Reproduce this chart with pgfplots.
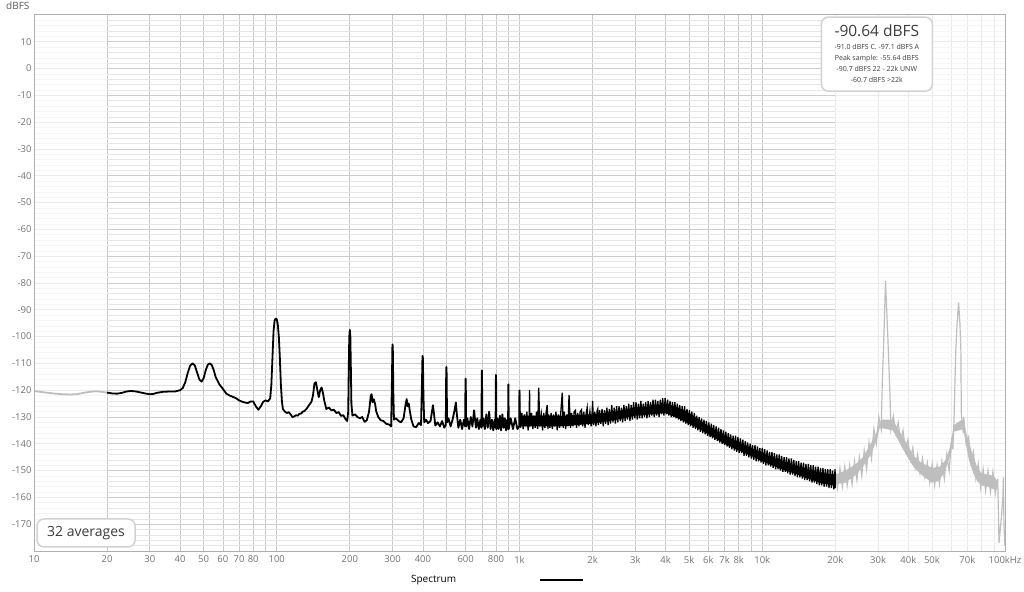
\documentclass[border=0pt]{standalone}
\usepackage{fontspec}
\setmainfont{Open Sans}
\usepackage{pgfplots}
\pgfplotsset{compat=1.18}
\definecolor{gridmaj}{RGB}{205,205,205}
\definecolor{gridmin}{RGB}{230,230,230}
\definecolor{vgrid}{RGB}{200,200,200}
\definecolor{framec}{RGB}{175,175,175}
\definecolor{ticklab}{RGB}{115,115,115}
\definecolor{specgray}{RGB}{190,190,190}
\definecolor{boxborder}{RGB}{210,210,210}
\begin{document}
\begin{tikzpicture}
\useasboundingbox (-34pt,-40pt) rectangle (990pt,551pt);
\begin{axis}[
  at={(0,0)}, anchor=south west,
  scale only axis, width=971pt, height=536pt,
  xmode=log, xmin=10, xmax=100000, ymin=-180, ymax=20,
  clip=false,
  xtick={10,20,30,40,50,60,70,80,100,200,300,400,600,800,1000,2000,3000,4000,5000,6000,7000,8000,10000,20000,30000,40000,50000,70000,100000},
  xticklabels={10,20,30,40,50,60,70,80,100,200,300,400,600,800,1k,2k,3k,4k,5k,6k,7k,8k,10k,20k,30k,40k,50k,70k,100kHz},
  minor xtick={90,500,700,900,9000,60000,80000,90000},
  ytick={-170,-160,-150,-140,-130,-120,-110,-100,-90,-80,-70,-60,-50,-40,-30,-20,-10,0,10},
  yticklabels={-170,-160,-150,-140,-130,-120,-110,-100,-90,-80,-70,-60,-50,-40,-30,-20,-10,0,10},
  minor ytick={-178,-176,...,18},
  grid=both,
  major x grid style={color=vgrid, line width=0.7pt},
  minor x grid style={color=vgrid, line width=0.7pt},
  major y grid style={color=gridmaj, line width=0.7pt},
  minor y grid style={color=gridmin, line width=0.6pt},
  major tick length=0pt, minor tick length=0pt,
  axis line style={color=framec, line width=1pt},
  ticklabel style={font=\fontsize{9.5}{11}\selectfont, text=ticklab},
  xticklabel style={yshift=-1.5pt},
  yticklabel style={xshift=1pt},
  legend plot pos=right,
  legend style={at={(rel axis cs:0.383,-0.054)}, anchor=west, draw=none, fill=none,
     font=\fontsize{10}{11}\selectfont},
  legend image code/.code={\path[draw=none] (0pt,0pt) -- (82pt,0pt); \draw[line width=1.8pt, black] (82pt,0pt) -- (125pt,0pt);},
]
% lighter regions outside 20 Hz - 20 kHz
\fill[white, opacity=0.6] (axis cs:10,-180) rectangle (axis cs:20,20);
\fill[white, opacity=0.6] (axis cs:20000,-180) rectangle (axis cs:100000,20);

% gray part 10-20 Hz
\addplot[specgray, line width=1.8pt, forget plot] coordinates {
(10,-120.3)(11,-120.8)(12,-121.2)(13,-121.5)(14,-121.6)(15,-121.5)(16,-121.0)(17,-120.6)(18,-120.4)(19,-120.6)(20,-120.9)};

% gray part 20k-100k : core fill
\addplot[fill=specgray, draw=none, forget plot] coordinates {
(20000,-151.5)(22000,-150)(24000,-148)(26000,-145)(28000,-140)(29500,-136)(30500,-132)(31300,-131)(33500,-131)(34500,-131)(36000,-134)(38000,-137.5)(40000,-141)(42000,-144.5)(45000,-147)(50000,-149)(54000,-148.5)(57000,-146)(59000,-142)(60500,-137)(61500,-133)(66500,-131)(68000,-133)(70000,-137.5)(73000,-143)(77000,-149)(80000,-151)(90000,-152)(93000,-154)
(93000,-157)(90000,-157)(85000,-156)(80000,-155.5)(77000,-154)(74000,-151)(71000,-146)(69000,-140)(67500,-134.5)(61500,-135.5)(60000,-143)(58000,-147.5)(56000,-151)(53000,-154)(50000,-154.5)(46000,-152)(44000,-150.5)(42000,-148.5)(40000,-145.5)(38000,-142)(36000,-138)(34500,-135)(30500,-134)(29500,-139)(28000,-144)(26000,-148.5)(24000,-152)(22000,-154.5)(20000,-155)};
% gray zigzag
\addplot[specgray, line width=1.2pt, forget plot] coordinates {
(20000,-150.5)(20417,-156.5)(20893,-149)(21380,-156)(21878,-148.5)(22387,-155.5)(22909,-148)(23442,-155)(23988,-146.5)(24547,-153.5)(25119,-145)(25704,-152)(26303,-142.5)(26915,-149.5)(27542,-139.5)(28184,-145.5)(28840,-134.5)(29512,-140)(30200,-130)(30903,-134.5)(31200,-118.4)(31700,-99.8)(32200,-79.3)(32900,-99.8)(33600,-122.2)(33884,-134.5)(34674,-129.5)(35481,-136)(36308,-132)(37154,-139)(38019,-135)(38905,-142.5)(39811,-138.5)(40738,-146)(41687,-141.5)(42658,-149)(43652,-144)(44668,-151)(45709,-145.5)(46774,-152.5)(47863,-147)(48978,-154.5)(50119,-147.5)(51286,-155.5)(52481,-148)(53703,-155)(54954,-146.5)(56234,-153)(57544,-144)(58884,-150)(60256,-139)(61000,-142)(61660,-131)(62700,-105)(63500,-95)(64400,-87.3)(65200,-95)(65800,-105)(66069,-128.5)(67300,-136)(67608,-130)(69183,-140)(70795,-137.5)(72444,-146.5)(74131,-143)(75858,-153)(77625,-147.5)(79433,-156.5)(81283,-149.5)(83176,-157.5)(85114,-150)(87096,-158)(89125,-150.5)(91201,-158.5)(93325,-153)(94500,-177)(96500,-168)(98000,-160)(98500,-152.5)(99000,-170)(99800,-178)};

% black spectrum 20 Hz - 1 kHz
\addplot[black, line width=1.8pt, line join=round] coordinates {
(20,-120.9)(21,-121.2)(22,-121.3)(23,-121.0)(24,-120.5)(25,-120.3)(26,-120.4)(27,-120.7)(28,-121.0)(29,-121.3)(30,-121.5)(31,-121.4)(32,-121.0)(34,-120.6)(36,-120.5)(38,-120.5)(40,-120.0)(41,-119.2)(42,-117.0)(43,-113.5)(44,-110.8)(45,-110.0)(46,-110.8)(47,-113.5)(48,-116.0)(49,-116.8)(50,-115.5)(51,-112.5)(52,-110.5)(53,-110.0)(54,-110.6)(55,-112.5)(56,-115.0)(58,-117.8)(60,-119.5)(62,-121.3)(64,-122.0)(66,-122.5)(68,-123.0)(70,-123.8)(72,-124.3)(74,-124.6)(76,-124.8)(78,-124.2)(80,-124.2)(82,-126.0)(84,-127.3)(86,-126.0)(88,-124.3)(90,-123.8)(92,-124.2)(94,-123.0)(95,-118)(96,-108)(97,-98)(98,-94)(99,-93.3)(100,-93.5)(101,-95.5)(102,-100)(103,-108)(104,-118)(105,-124)(106,-127)(108,-128)(110,-128.5)(112,-128.2)(114,-129)(116,-130)(118,-129.8)(120,-129.3)(122,-129.5)(124,-128.8)(126,-128.7)(128,-128)(130,-127.8)(133,-126.8)(136,-125.5)(139,-124.3)(141,-122)(143,-117.5)(145,-117)(147,-120)(149,-122.6)(151,-120)(153,-119)(155,-121)(157,-124)(160,-127)(164,-126.5)(168,-127.5)(172,-127.3)(176,-128.5)(180,-128.2)(184,-129.6)(188,-129.3)(192,-130.8)(195,-131.5)(197,-128)(198,-112)(199,-100)(200,-97.5)(201,-100)(202,-112)(203,-125)(205,-129.5)(210,-129)(215,-130)(220,-130.5)(225,-130)(230,-131.8)(235,-131.2)(240,-128)(244,-122)(246,-121.5)(248,-124.5)(251,-123.4)(254,-125)(257,-128)(262,-130)(268,-131.2)(275,-131.5)(282,-132.5)(290,-132.8)(296,-133.5)(298,-118)(299.5,-104)(300,-102.9)(301,-106)(302,-120)(304,-131)(310,-130.5)(318,-131.5)(325,-132)(333,-130.5)(340,-125)(343,-123.3)(346,-126)(350,-125)(353,-127.5)(358,-130.8)(366,-133.5)(375,-133.8)(385,-132.2)(393,-133)(397,-115)(398.5,-107.2)(400,-108)(402,-122)(405,-132)(412,-131)(420,-132.3)(430,-131.5)(436,-128)(440,-125.6)(444,-128.5)(450,-133.2)(460,-132)(470,-133.5)(480,-131.5)(490,-134)(497,-133)(499,-112)(500,-111.3)(501,-114)(503,-132)(510,-130.5)(520,-133.5)(530,-131)(540,-127.5)(547,-124.6)(552,-129)(560,-134)(570,-131)(580,-134.5)(590,-131)(597,-133.5)(599,-118)(600,-115.7)(601,-119)(603,-133.5)(610,-130.5)(620,-134.5)(630,-130)(640,-133.5)(650,-127.5)(656,-131)(662,-134)(670,-130.5)(680,-134.5)(690,-131)(697,-134)(699,-115)(700,-112.6)(701,-116)(703,-133.5)(710,-130.5)(720,-134.5)(730,-129)(740,-134)(750,-128)(760,-134.5)(770,-131)(780,-135)(790,-131)(797,-134)(799,-117)(800,-114.3)(801,-117)(803,-134.5)(810,-130.5)(820,-134.5)(830,-129.5)(840,-135)(850,-129)(860,-134)(870,-130.5)(880,-135)(890,-131)(897,-134.5)(899,-120)(900,-117.8)(901,-121)(903,-134.5)(920,-130.5)(940,-134.5)(960,-130.5)(980,-134.5)(997,-133.5)(999,-122)(1000,-119.9)};
\addlegendentry{Spectrum}

% black band core fill 1k-20k
\addplot[fill=black, draw=none, forget plot] coordinates {
(1000,-129.5)(1500,-129.5)(2000,-129)(2500,-128)(3000,-126.5)(3500,-126)(4000,-125)(4500,-126.5)(5000,-128.5)(5500,-131)(6000,-133.5)(7000,-137)(8000,-139.5)(9000,-141.5)(10000,-143.5)(12000,-146.5)(14000,-148.5)(16000,-150)(18000,-151)(20000,-151.5)
(20000,-155.5)(18000,-155)(16000,-153.5)(14000,-151.5)(12000,-149.5)(10000,-146.5)(9000,-144.5)(8000,-142.5)(7000,-140)(6000,-136.5)(5500,-134.5)(5000,-132.5)(4500,-130.5)(4000,-128.5)(3500,-129)(3000,-129.5)(2500,-131)(2000,-132.5)(1500,-133.5)(1000,-133.5)};
% black zigzag 1k-20k
\addplot[black, line width=1.3pt, forget plot] coordinates {
(1000,-119.9)(1010,-134)(1023,-128.5)(1035,-134.5)(1047,-129)(1060,-133.5)(1072,-128)(1085,-135)(1096,-130)(1100,-120)(1105,-133.5)(1122,-128.5)(1135,-134.5)(1148,-129.5)(1160,-134)(1175,-128)(1188,-134.5)(1200,-119)(1212,-133.5)(1230,-129)(1245,-135)(1259,-128.5)(1272,-134)(1288,-128)(1300,-125.6)(1310,-134.5)(1318,-129)(1334,-134)(1349,-128.5)(1365,-134.5)(1380,-129)(1396,-133.5)(1413,-128)(1430,-135)(1445,-129)(1462,-134)(1479,-128.5)(1500,-120.9)(1514,-134)(1530,-128)(1549,-134.5)(1567,-129)(1585,-133.5)(1600,-121.8)(1622,-134)(1640,-128.5)(1660,-133.5)(1680,-128)(1700,-127.5)(1718,-134)(1738,-128.5)(1758,-133.5)(1778,-128)(1800,-127.3)(1820,-133.5)(1840,-128)(1862,-134)(1883,-128.5)(1900,-126.5)(1920,-133)(1950,-128)(1972,-133.5)(1995,-127.5)(2000,-124)(2020,-133)(2042,-128)(2065,-133.5)(2089,-127.5)(2100,-127)(2113,-133)(2138,-127.5)(2163,-132.5)(2188,-127)(2213,-133.5)(2239,-127.5)(2265,-132.5)(2291,-126.5)(2317,-133)(2344,-127)(2371,-132.5)(2399,-125.5)(2427,-132)(2455,-126.5)(2483,-132.5)(2512,-126)(2541,-132)(2570,-126)(2600,-131.5)(2630,-126.5)(2660,-132)(2692,-125.5)(2723,-131.5)(2754,-126)(2786,-131)(2818,-125)(2851,-131.5)(2884,-125.5)(2917,-131)(2951,-124.5)(2985,-130.5)(3020,-124.5)(3055,-131)(3090,-125)(3126,-130.5)(3162,-124)(3199,-130.5)(3236,-125)(3273,-130)(3311,-124.5)(3350,-130.5)(3388,-124)(3428,-130)(3467,-124.5)(3508,-129.5)(3548,-123.5)(3589,-130)(3631,-123.5)(3673,-129.5)(3715,-124)(3758,-130)(3802,-123.5)(3846,-129)(3890,-123)(3936,-129.5)(3981,-123)(4027,-129)(4074,-123.5)(4121,-129.5)(4169,-124)(4217,-130)(4266,-124.5)(4315,-130)(4365,-124.5)(4416,-130.5)(4467,-125)(4519,-131)(4571,-125.5)(4624,-131.5)(4677,-126)(4732,-132)(4786,-126)(4842,-132.5)(4898,-127)(4955,-133)(5012,-127.5)(5070,-133.5)(5129,-128)(5188,-134)(5248,-128.5)(5309,-134.5)(5370,-129.5)(5433,-135)(5495,-130)(5559,-135.5)(5623,-130.5)(5689,-136)(5754,-131)(5821,-136.5)(5888,-131.5)(5957,-137)(6026,-132)(6096,-137.5)(6166,-132.5)(6237,-138)(6310,-133)(6383,-138.5)(6457,-133.5)(6532,-139)(6607,-134)(6683,-139.5)(6761,-134.5)(6839,-140)(6918,-135)(6998,-140.5)(7079,-135.5)(7161,-141)(7244,-136)(7328,-141.5)(7413,-136.5)(7499,-142)(7586,-137)(7674,-142.5)(7762,-137)(7852,-143)(7943,-137.5)(8035,-143.5)(8128,-138)(8222,-143.5)(8318,-138.5)(8414,-144.5)(8511,-139)(8610,-144.5)(8710,-139.5)(8810,-145)(8913,-140)(9016,-145.5)(9120,-140.5)(9226,-146)(9333,-140.5)(9441,-146.5)(9550,-141)(9661,-146.5)(9772,-141.5)(9886,-147)(10000,-141.5)(10116,-147.5)(10233,-142)(10351,-148)(10471,-142.5)(10593,-148)(10715,-143)(10839,-148.5)(10965,-143)(11092,-149)(11220,-143.5)(11350,-149.5)(11482,-144)(11614,-149.5)(11749,-144)(11885,-150)(12023,-144.5)(12162,-150.5)(12303,-145)(12445,-150.5)(12589,-145)(12735,-151)(12882,-145.5)(13032,-151.5)(13183,-145.5)(13335,-151.5)(13490,-146)(13646,-152)(13804,-146.5)(13964,-152.5)(14125,-146.5)(14289,-152.5)(14454,-147)(14622,-153)(14791,-147)(14962,-153.5)(15136,-147.5)(15311,-153.5)(15488,-147.5)(15668,-154)(15849,-148)(16032,-154.5)(16218,-148)(16406,-154.5)(16596,-148.5)(16788,-155)(16982,-148.5)(17179,-155.5)(17378,-149)(17579,-155.5)(17783,-149)(17989,-156)(18197,-149.5)(18408,-156)(18621,-149.5)(18836,-156.5)(19055,-149.5)(19275,-156.5)(19498,-150)(19724,-157)(19953,-149.5)(20000,-156.5)};

% frame redraw
\draw[framec, line width=1pt] (rel axis cs:0,0) rectangle (rel axis cs:1,1);

% labels and boxes
\node[anchor=east, font=\fontsize{10}{12}\selectfont, text={rgb,255:red,90;green,90;blue,90}] at ([xshift=-1pt,yshift=9pt]rel axis cs:0,1) {dBFS};
\node[draw=boxborder, line width=1.5pt, rounded corners=7pt, fill=white, align=center, minimum width=111pt, minimum height=74pt, inner sep=2pt, text={rgb,255:red,60;green,60;blue,60}] at (rel axis cs:0.868,0.927)
 {{\fontsize{15.5}{17}\selectfont -90.64 dBFS}\\[1pt]{\fontsize{7}{9}\selectfont -91.0 dBFS C. -97.1 dBFS A}\\[-1pt]{\fontsize{7}{9}\selectfont Peak sample: -55.64 dBFS}\\[-1pt]{\fontsize{7}{9}\selectfont -90.7 dBFS 22 - 22k UNW}\\[-1pt]{\fontsize{7}{9}\selectfont -60.7 dBFS >22k}};
\node[draw=boxborder, line width=1.5pt, rounded corners=7pt, fill=white, minimum width=98pt, minimum height=28pt, inner sep=2pt, font=\fontsize{14}{16}\selectfont, text={rgb,255:red,60;green,60;blue,60}] at (rel axis cs:0.0536,0.0336) {32 averages};
\end{axis}
\end{tikzpicture}
\end{document}
